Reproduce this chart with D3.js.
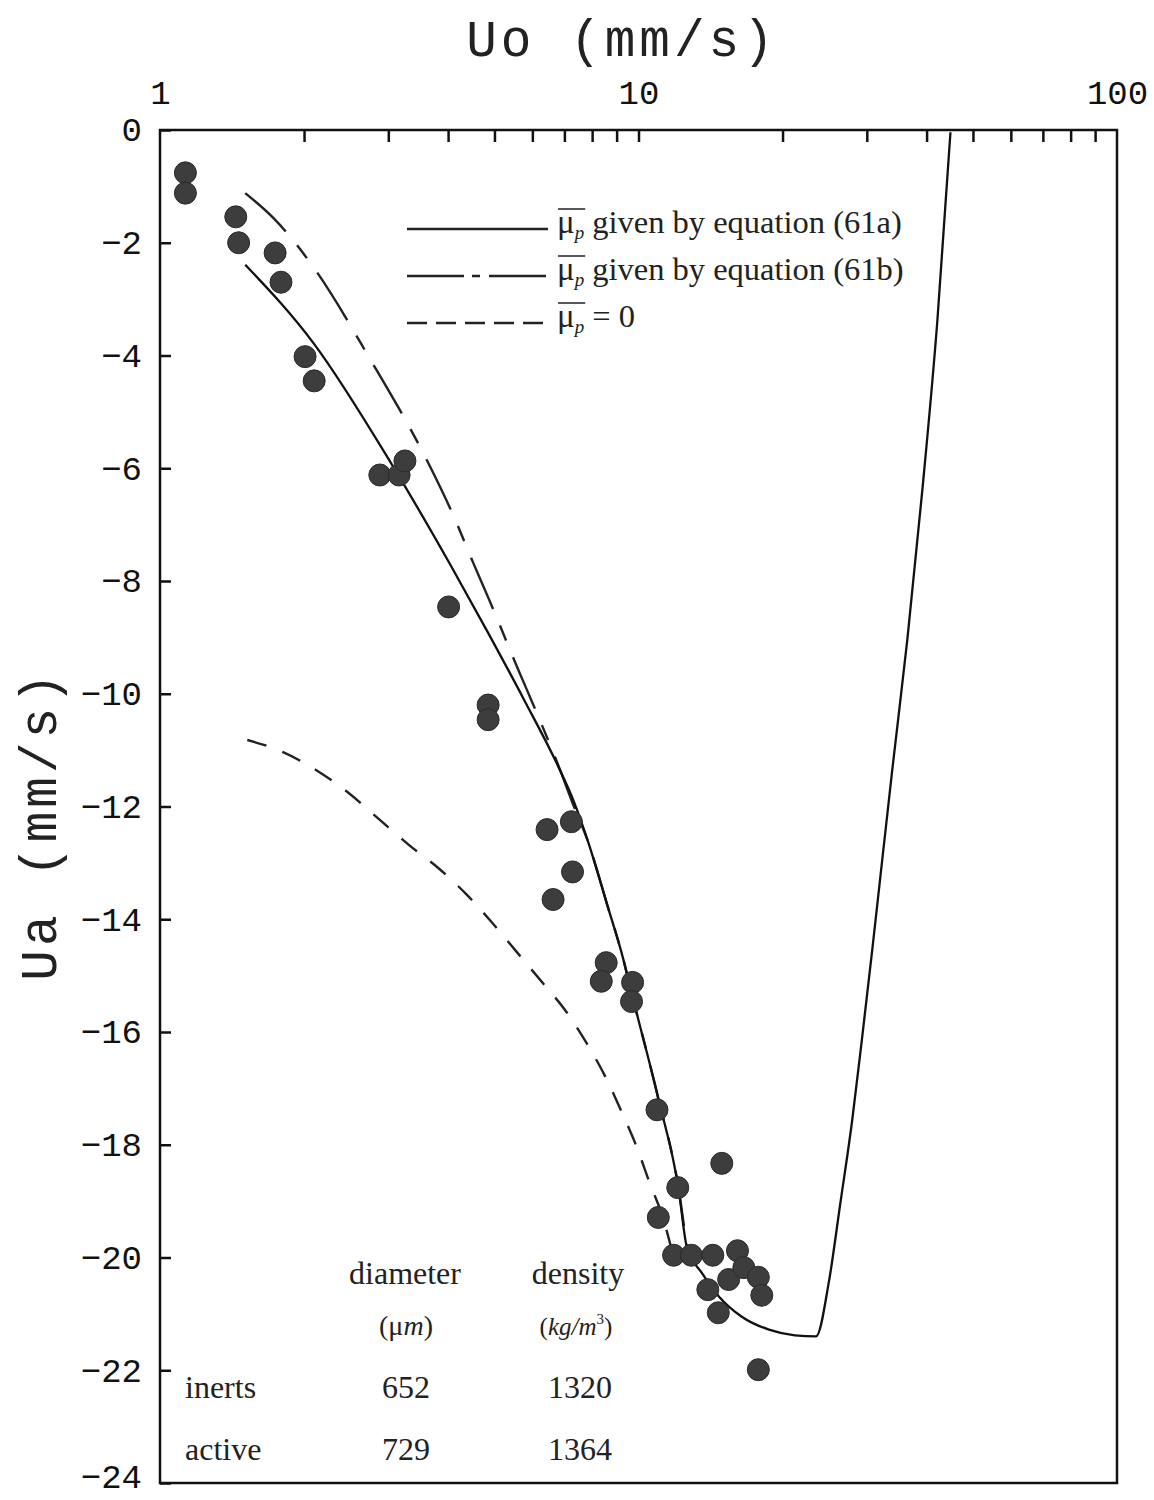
<!DOCTYPE html>
<html>
<head>
<meta charset="utf-8">
<script src="https://cdn.jsdelivr.net/npm/d3@7"></script>
<style>
  body { margin: 0; background: #fff; }
  svg { display: block; }
</style>
</head>
<body>
<svg id="chart" width="1154" height="1500"></svg>
<script>
// measured points: Uo (mm/s) vs Ua (mm/s)
const pointUo = [1.13, 1.13, 1.44, 1.46, 1.74, 1.79, 2.01, 2.10, 2.88, 3.16, 3.25, 4.01, 4.85, 4.85,
  6.44, 7.24, 6.63, 7.28, 8.56, 8.36, 9.72, 9.67, 10.93, 12.08, 11.0, 14.93, 11.84, 12.9, 14.3,
  13.96, 14.68, 15.43, 16.1, 16.6, 17.8, 18.1, 17.8];
const pointUa = [-0.76, -1.12, -1.54, -2.0, -2.18, -2.7, -4.02, -4.45, -6.12, -6.12, -5.87, -8.46, -10.2, -10.46,
  -12.41, -12.27, -13.65, -13.16, -14.77, -15.1, -15.12, -15.46, -17.38, -18.76, -19.29, -18.33, -19.96, -19.96, -19.96,
  -20.57, -20.98, -20.39, -19.88, -20.18, -20.35, -20.67, -21.99];

// mu_p from equation (61a)
const eq61aUo = [1.507, 2.093, 3.035, 4.055, 4.85, 5.768, 6.796, 7.341, 7.857, 8.6, 9.302, 9.668,
  11.014, 12.132, 12.609, 13.55, 14.72, 16.44, 18.73, 21.23, 23.5,
  25.02, 26.39, 27.96, 29.35, 30.8, 32.32, 33.91, 36.46, 39.2, 42.14, 44.87];
const eq61aUa = [-2.39, -3.78, -5.90, -7.73, -8.92, -10.11, -11.29, -11.93, -12.64, -13.74, -14.72, -15.30,
  -17.20, -18.79, -19.80, -20.27, -20.69, -21.05, -21.28, -21.38, -21.40,
  -20.41, -19.06, -17.57, -16.08, -14.54, -12.94, -11.35, -9.04, -6.38, -3.37, -0.04];

// mu_p from equation (61b)
const eq61bUo = [1.507, 1.725, 2.063, 2.756, 3.628, 4.114, 4.531, 4.873, 5.63, 6.052, 6.929, 7.237,
  7.857, 8.6, 9.302, 9.668, 11.014, 12.132, 12.609];
const eq61bUa = [-1.12, -1.56, -2.36, -4.08, -5.89, -6.86, -7.71, -8.33, -9.61, -10.23, -11.45, -11.88,
  -12.64, -13.74, -14.72, -15.30, -17.20, -18.79, -19.80];

// mu_p = 0
const mu0Uo = [1.522, 1.803, 2.134, 2.479, 2.864, 3.311, 3.826, 4.36, 4.966, 5.603, 6.322, 7.065, 7.781, 8.487,
  9.213, 9.904, 10.545, 11.28, 11.73];
const mu0Ua = [-10.82, -11.03, -11.37, -11.76, -12.22, -12.68, -13.10, -13.55, -14.08, -14.61, -15.14, -15.64, -16.19, -16.76,
  -17.41, -18.03, -18.67, -19.33, -19.86];

const xLabelTicks = [1, 10, 100];
const xMinorTicks = [2, 3, 4, 5, 6, 7, 8, 9, 10, 20, 30, 40, 50, 60, 70, 80, 90];
const yTicks = [0, -2, -4, -6, -8, -10, -12, -14, -16, -18, -20, -22, -24];

const legendNames = ["given by equation (61a)", "given by equation (61b)", "= 0"];
const tableRows = ["inerts", "active"];
const diameters = [652, 729];
const densities = [1320, 1364];

const svg = d3.select("#chart");
svg.append("rect").attr("width", 1154).attr("height", 1500).attr("fill", "#fff");

const plotLeft = 160, plotRight = 1117, plotTop = 130, plotBottom = 1483;

const x = d3.scaleLog().domain([1, 100]).range([plotLeft, plotRight]);
const y = d3.scaleLinear().domain([0, -24]).range([plotTop, plotBottom]);

const monoFont = "'Liberation Mono', 'DejaVu Sans Mono', monospace";
const serifFont = "'Liberation Serif', 'DejaVu Serif', serif";

// top axis: labels, then inward ticks
const xLab = svg.append("g").attr("transform", `translate(0,${plotTop})`)
  .call(d3.axisTop(x).tickValues(xLabelTicks).tickSize(0).tickPadding(26).tickFormat(d3.format("d")));
xLab.select(".domain").remove();
xLab.selectAll("text").attr("font-family", monoFont).attr("font-size", 34).attr("fill", "#111");

const xTk = svg.append("g").attr("transform", `translate(0,${plotTop})`)
  .call(d3.axisTop(x).tickValues(xMinorTicks).tickSizeInner(-12).tickSizeOuter(0).tickFormat(""));
xTk.select(".domain").remove();
xTk.selectAll("line").attr("stroke", "#111").attr("stroke-width", 2.5);

// left axis
const yAx = svg.append("g").attr("transform", `translate(${plotLeft},0)`)
  .call(d3.axisLeft(y).tickValues(yTicks).tickSizeInner(-11).tickSizeOuter(0).tickPadding(18)
    .tickFormat(d => d === 0 ? "0" : "\u2212" + Math.abs(d)));
yAx.select(".domain").remove();
yAx.selectAll("line").attr("stroke", "#111").attr("stroke-width", 2.5);
yAx.selectAll("text").attr("font-family", monoFont).attr("font-size", 34).attr("fill", "#111")
  .filter(d => d === -24).attr("dy", "0.14em"); // keep the last label inside the page

// frame
svg.append("rect").attr("x", plotLeft).attr("y", plotTop)
  .attr("width", plotRight - plotLeft).attr("height", plotBottom - plotTop)
  .attr("fill", "none").attr("stroke", "#111").attr("stroke-width", 2.5);

// axis titles
svg.append("text").attr("x", 622).attr("y", 56).attr("text-anchor", "middle")
  .attr("font-family", monoFont).attr("font-size", 51).attr("letter-spacing", 4).attr("fill", "#222")
  .text("Uo (mm/s)");
svg.append("text").attr("transform", "translate(56,825) rotate(-90)").attr("text-anchor", "middle")
  .attr("font-family", monoFont).attr("font-size", 51).attr("letter-spacing", 4).attr("fill", "#222")
  .text("Ua (mm/s)");

// curves
const line = d3.line().x(d => x(d[0])).y(d => y(d[1])).curve(d3.curveMonotoneX);
const zip = (a, b) => a.map((v, i) => [v, b[i]]);

const plot = svg.append("g");
plot.append("path").datum(zip(mu0Uo, mu0Ua)).attr("d", line)
  .attr("fill", "none").attr("stroke", "#222").attr("stroke-width", 2.4).attr("stroke-dasharray", "20,17");
plot.append("path").datum(zip(eq61bUo, eq61bUa)).attr("d", line)
  .attr("fill", "none").attr("stroke", "#222").attr("stroke-width", 2.4).attr("stroke-dasharray", "56,18,16,18");
plot.append("path").datum(zip(eq61aUo, eq61aUa)).attr("d", line)
  .attr("fill", "none").attr("stroke", "#111").attr("stroke-width", 2.3);

// points
plot.selectAll(".pt").data(zip(pointUo, pointUa)).enter().append("circle")
  .attr("class", "pt")
  .attr("cx", d => x(d[0])).attr("cy", d => y(d[1])).attr("r", 11)
  .attr("fill", "#3d3d3d").attr("stroke", "#2a2a2a").attr("stroke-width", 1);

// legend
const dashes = [null, "57,8,8,9", "20,9"];
const legend = svg.append("g");
legendNames.forEach((name, i) => {
  const ly = 229 + i * 47;
  legend.append("line").attr("x1", 407).attr("x2", 548).attr("y1", ly).attr("y2", ly)
    .attr("stroke", "#222").attr("stroke-width", 2.4).attr("stroke-dasharray", dashes[i]);
  const mu = legend.append("text").attr("x", 557).attr("y", ly + 4)
    .attr("font-family", serifFont).attr("font-size", 33).attr("fill", "#222");
  mu.append("tspan").text("\u03bc");
  mu.append("tspan").attr("font-size", 19).attr("font-style", "italic").attr("dy", 6).text("p");
  const bb = mu.node().getBBox();
  legend.append("line").attr("x1", bb.x + 1).attr("x2", bb.x + bb.width + 1)
    .attr("y1", ly - 20).attr("y2", ly - 20).attr("stroke", "#222").attr("stroke-width", 1.5);
  legend.append("text").attr("x", bb.x + bb.width + 8).attr("y", ly + 4)
    .attr("font-family", serifFont).attr("font-size", 32.5).attr("fill", "#222").text(name);
});

// property table
const table = svg.append("g").attr("font-family", serifFont).attr("fill", "#222");
table.append("text").attr("x", 405).attr("y", 1284).attr("text-anchor", "middle").attr("font-size", 32).text("diameter");
table.append("text").attr("x", 578).attr("y", 1284).attr("text-anchor", "middle").attr("font-size", 32).text("density");
const um = table.append("text").attr("x", 406).attr("y", 1335).attr("text-anchor", "middle").attr("font-size", 28);
um.append("tspan").text("(\u03bc");
um.append("tspan").attr("font-style", "italic").text("m");
um.append("tspan").text(")");
const kg = table.append("text").attr("x", 576).attr("y", 1335).attr("text-anchor", "middle").attr("font-size", 25).attr("font-style", "italic");
kg.append("tspan").attr("font-style", "normal").text("(");
kg.append("tspan").text("kg/m");
kg.append("tspan").attr("font-size", 15).attr("dy", -11).attr("font-style", "normal").text("3");
kg.append("tspan").attr("dy", 11).attr("font-style", "normal").text(")");
tableRows.forEach((r, i) => {
  const ty = 1398 + i * 62;
  table.append("text").attr("x", 185).attr("y", ty).attr("font-size", 32).text(r);
  table.append("text").attr("x", 406).attr("y", ty).attr("text-anchor", "middle").attr("font-size", 32).text(diameters[i]);
  table.append("text").attr("x", 580).attr("y", ty).attr("text-anchor", "middle").attr("font-size", 32).text(densities[i]);
});
</script>
</body>
</html>
